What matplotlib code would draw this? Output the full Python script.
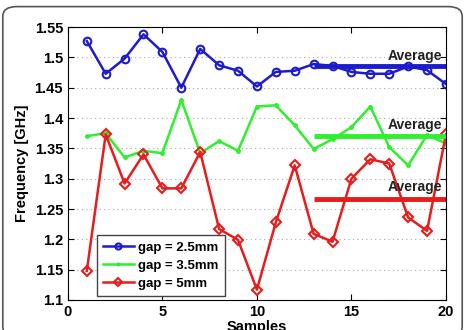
import matplotlib
matplotlib.use('Agg')
import matplotlib.pyplot as plt
from matplotlib.patches import FancyBboxPatch

plt.rcParams['font.family'] = ['Liberation Sans', 'DejaVu Sans']

samples = list(range(1, 21))
gap_25 = [1.527, 1.473, 1.498, 1.538, 1.509, 1.450, 1.514, 1.487, 1.478, 1.452,
          1.476, 1.478, 1.489, 1.486, 1.476, 1.473, 1.473, 1.485, 1.479, 1.456]
gap_35 = [1.370, 1.375, 1.335, 1.346, 1.342, 1.430, 1.342, 1.362, 1.346, 1.419,
          1.421, 1.388, 1.349, 1.365, 1.385, 1.419, 1.352, 1.322, 1.372, 1.358]
gap_5 = [1.148, 1.373, 1.292, 1.340, 1.284, 1.284, 1.344, 1.217, 1.199, 1.117,
         1.228, 1.322, 1.209, 1.196, 1.300, 1.332, 1.325, 1.236, 1.214, 1.373]
avg_values = [1.486, 1.370, 1.266]
avg_span = [13, 20]
series_labels = ['gap = 2.5mm', 'gap = 3.5mm', 'gap = 5mm']

blue = '#1c1ccc'
green = '#2ef02e'
red = '#e81c1c'

fig = plt.figure(figsize=(4.65, 3.3), dpi=100)
ax = fig.add_axes([0.146, 0.091, 0.813, 0.827])

# rounded frame around the picture
frame = FancyBboxPatch((0.006, -0.02), 0.988, 1.0, boxstyle='round,pad=0,rounding_size=0.03',
                       transform=fig.transFigure, facecolor='none', edgecolor='#555555',
                       linewidth=1.2, clip_on=False)
fig.patches.append(frame)

ax.plot(samples, gap_25, color=blue, lw=1.8, marker='o', ms=5.5, mfc='none', mew=1.5, label=series_labels[0])
ax.plot(samples, gap_35, color=green, lw=1.8, marker='.', ms=5, label=series_labels[1])
ax.plot(samples, gap_5, color=red, lw=1.8, marker='D', ms=5, mfc='none', mew=1.5, label=series_labels[2])

for val, c, off in zip(avg_values, [blue, green, red], [0.016, 0.018, 0.02]):
    ax.plot(avg_span, [val, val], color=c, lw=3.5, solid_capstyle='butt')
    ax.text(19.8, val + off, 'Average', ha='right', va='center', fontsize=10,
            fontweight='bold', color='#222222')

ax.set_xlim(0, 20)
ax.set_ylim(1.1, 1.55)
ax.set_xticks([0, 5, 10, 15, 20])
yt = [1.1, 1.15, 1.2, 1.25, 1.3, 1.35, 1.4, 1.45, 1.5, 1.55]
ax.set_yticks(yt)
ax.set_yticklabels(['%g' % v for v in yt])
ax.yaxis.grid(True, linestyle=(0, (1, 3)), color='#aaaaaa', linewidth=0.8)
ax.tick_params(direction='in', top=True, right=True, labelsize=10.5, length=4)
for lab in ax.get_xticklabels() + ax.get_yticklabels():
    lab.set_fontweight('bold')
ax.set_xlabel('Samples', fontsize=10.5, fontweight='bold', labelpad=1)
ax.set_ylabel('Frequency [GHz]', fontsize=10.5, fontweight='bold', labelpad=4)

leg = ax.legend(loc='lower left', bbox_to_anchor=(0.078, 0.015), fontsize=9.5, fancybox=False,
                edgecolor='#444444', framealpha=1, handlelength=2.3, borderpad=0.45,
                labelspacing=0.45, handletextpad=0.35, borderaxespad=0, markerscale=0.8)
for t in leg.get_texts():
    t.set_fontweight('bold')

fig.savefig('out.png', dpi=100)
